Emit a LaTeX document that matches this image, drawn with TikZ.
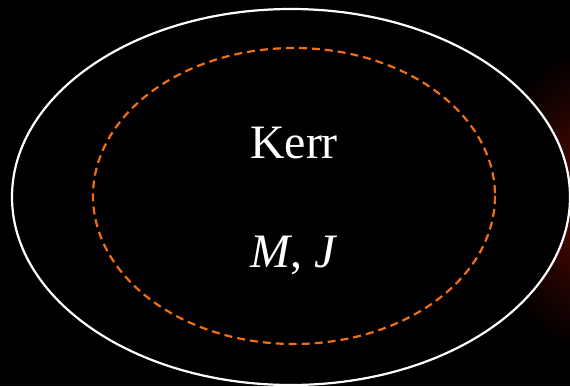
\documentclass[tikz,border=0pt]{standalone}
\usepackage{fontspec}
\setmainfont{Liberation Serif}
\definecolor{kerrorange}{RGB}{240,110,20}
\definecolor{glowred}{RGB}{90,10,5}
\begin{document}
\begin{tikzpicture}[x=1pt, y=-1pt,
    horizon/.style={draw=white, line width=2.2pt},
    ergo/.style={draw=kerrorange, line width=2.2pt, dash pattern=on 8pt off 5pt},
    label/.style={text=white, anchor=base, inner sep=0pt, font=\fontsize{48}{52}\selectfont}]
    \fill[black] (0,0) rectangle (570,386);
    \useasboundingbox (0,0) rectangle (570,386);
    % faint glow on the right edge
    \begin{scope}
      \clip (0,0) rectangle (570,386);
      \shade[inner color=glowred, outer color=black] (590,200) ellipse [x radius=100, y radius=150];
    \end{scope}
    \fill[black] (291,197) ellipse [x radius=279, y radius=188];
    \draw[horizon] (291,197) ellipse [x radius=279, y radius=188];
    \draw[ergo] (294,196) ellipse [x radius=201, y radius=148];
    \node[label] (kerr) at (294,158) {Kerr};
    \node[label] (params) at (294,267) {\textit{M}, \textit{J}};
\end{tikzpicture}
\end{document}
